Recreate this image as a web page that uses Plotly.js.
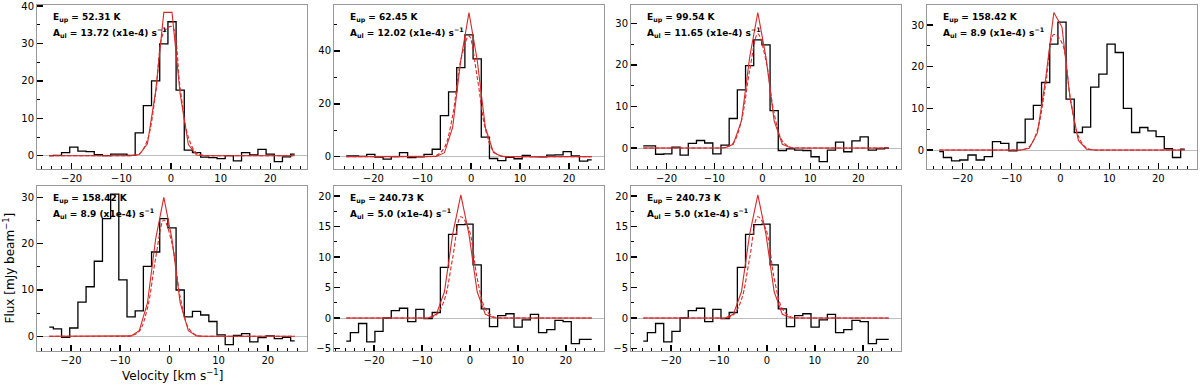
<!DOCTYPE html>
<html>
<head>
<meta charset="utf-8">
<script src="https://cdn.plot.ly/plotly-3.0.1.min.js"></script>
<style>html,body{margin:0;padding:0;background:#fff;}#chart{width:1200px;height:384px;}</style>
</head>
<body>
<div id="chart"></div>
<script>
// ---------------- DATA ----------------
const vel1 = [-24.50,-22.85,-21.21,-19.56,-17.91,-16.27,-14.62,-12.97,-11.32,-9.68,-8.03,-6.38,-4.74,-3.09,-1.44,0.21,1.85,3.50,5.15,6.79,8.44,10.09,11.73,13.38,15.03,16.68,18.32,19.97,21.62,23.26,24.91];
const flux1 = [0.0,0.1,0.8,2.3,1.2,1.1,0.3,0.0,0.4,0.4,0.1,6.1,13.4,20.0,29.9,35.8,17.5,1.5,0.8,-0.4,-0.5,-0.8,0.0,-1.4,0.8,0.2,1.7,0.4,-1.6,-0.3,0.4];
const fit1 = [0,0,0,0,0,0,0,0,0,0,0,0.3,3.2,17.2,38.3,38.3,16.5,3.0,0.2,0,0,0,0,0,0,0,0,0,0,0,0];
const model1 = [0,0,0,0,0,0,0,0,0,0,0.05,0.5,4.2,16.6,33.0,34.5,18.0,4.9,0.7,0.05,0,0,0,0,0,0,0,0,0,0,0];

const vel2 = [-25.54,-23.87,-22.19,-20.52,-18.85,-17.18,-15.50,-13.83,-12.16,-10.48,-8.81,-7.14,-5.46,-3.79,-2.12,-0.45,1.23,2.90,4.57,6.25,7.92,9.59,11.27,12.94,14.61,16.29,17.96,19.63,21.30,22.98,24.65];
const flux2 = [0.3,0.3,0.1,0.9,-0.2,-0.9,0.0,1.5,-0.4,-0.1,0.9,2.8,15.5,24.5,33.7,46.1,37.0,7.4,-0.7,-1.5,-0.3,-0.8,0.5,0.0,-0.1,0.6,0.7,1.9,0.3,-1.7,-1.2];
const fit2 = [0,0,0,0,0,0,0,0,0,0,0,0.1,1.5,11.1,36.6,54.5,36.6,11.1,1.5,0.1,0,0,0,0,0,0,0,0,0,0,0];
const model2 = [0,0,0,0,0,0,0,0,0,0,0,0.4,3.5,15.5,36.6,45.7,30.1,10.5,2.0,0.2,0,0,0,0,0,0,0,0,0,0,0];

const vel3 = [-24.83,-23.12,-21.42,-19.71,-18.01,-16.30,-14.59,-12.89,-11.18,-9.48,-7.77,-6.07,-4.36,-2.65,-0.95,0.76,2.46,4.17,5.88,7.58,9.29,10.99,12.70,14.41,16.11,17.82,19.52,21.23,22.93,24.64,26.35];
const flux3 = [0.5,0.5,-1.5,-1.4,0.2,-1.7,1.1,1.8,1.2,-1.4,0.7,7.1,14.0,19.8,26.0,24.8,9.0,-0.6,-0.2,-0.5,-0.6,-2.1,-3.3,-0.5,1.4,-0.9,1.7,2.7,-0.5,-0.2,0.0];
const fit3 = [0,0,0,0,0,0,0,0,0,0,0.05,0.9,6.5,21.8,32.6,21.8,6.5,0.9,0.05,0,0,0,0,0,0,0,0,0,0,0,0];
const model3 = [0,0,0,0,0,0,0,0,0,0,0.1,1.2,6.6,18.7,27.5,21.0,8.3,1.7,0.2,0,0,0,0,0,0,0,0,0,0,0,0];

const vel4 = [-24.75,-23.08,-21.41,-19.73,-18.06,-16.39,-14.72,-13.05,-11.37,-9.70,-8.03,-6.36,-4.69,-3.01,-1.34,0.33,2.00,3.67,5.35,7.02,8.69,10.36,12.03,13.71,15.38,17.05,18.72,20.39,22.07,23.74,25.41];
const flux4 = [-0.4,-1.8,-2.6,-2.4,-1.2,-2.4,-1.6,2.0,1.6,-0.2,1.8,7.4,10.7,16.2,25.4,30.7,12.2,4.2,5.5,15.1,18.2,25.4,23.4,10.0,4.2,5.4,4.6,3.2,0.3,-1.8,0.2];
const fit4 = [0,0,0,0,0,0,0,0,0,0,0,0.4,4.1,17.1,33.0,29.5,12.2,2.3,0.2,0,0,0,0,0,0,0,0,0,0,0,0];
const model4 = [0,0,0,0,0,0,0,0,0,0,0,0.8,4.8,15.8,27.7,25.7,12.7,3.3,0.5,0,0,0,0,0,0,0,0,0,0,0,0];

const vel5 = [-24.41,-22.75,-21.08,-19.42,-17.76,-16.10,-14.43,-12.77,-11.11,-9.44,-7.78,-6.12,-4.45,-2.79,-1.13,0.53,2.20,3.86,5.52,7.19,8.85,10.51,12.18,13.84,15.50,17.17,18.83,20.49,22.15,23.82,25.48];
const flux5 = [2.0,1.6,-0.2,1.8,7.4,10.7,16.2,25.4,30.7,12.2,4.2,5.5,15.1,18.2,25.4,23.4,10.0,4.2,5.4,4.6,3.2,0.3,-1.8,0.2,0.6,-1.2,-0.3,0.1,-0.5,-0.2,-1.0];
const fit5 = [0,0,0,0,0,0,0,0,0,0,0.1,1.2,7.2,21.0,30.0,21.0,7.2,1.2,0.1,0,0,0,0,0,0,0,0,0,0,0,0];
const model5 = [0,0,0,0,0,0,0,0,0,0,0.1,1.1,6.1,16.9,25.1,20.1,8.5,1.9,0.2,0,0,0,0,0,0,0,0,0,0,0,0];

const vel6 = [-25.80,-24.09,-22.39,-20.68,-18.97,-17.27,-15.56,-13.85,-12.14,-10.44,-8.73,-7.02,-5.32,-3.61,-1.90,-0.20,1.51,3.22,4.93,6.63,8.34,10.05,11.75,13.46,15.17,16.88,18.58,20.29,22.00,23.70,25.41];
const flux6 = [-3.8,-2.4,-0.9,-3.9,-2.2,0.0,1.2,1.6,-0.6,1.4,-0.1,0.9,8.3,13.7,15.3,15.4,8.7,1.5,-1.4,0.4,0.7,-1.5,-0.3,0.6,-2.4,-1.9,-0.4,-0.6,-4.2,-3.5,-3.5];
const fit6 = [0,0,0,0,0,0,0,0,0,0,0,0.6,4.3,13.7,20.2,13.7,4.3,0.6,0.05,0,0,0,0,0,0,0,0,0,0,0,0];
const model6 = [0,0,0,0,0,0,0,0,0,0,0,0.5,3.0,9.8,16.6,14.5,6.5,1.5,0.2,0,0,0,0,0,0,0,0,0,0,0,0];

const eupLabels = ['52.31','62.45','99.54','158.42','158.42','240.73','240.73'];
const aulLabels = ['13.72','12.02','11.65','8.9','8.9','5.0','5.0'];

// ---------------- LAYOUT CONSTANTS ----------------
const W = 1200, H = 384;
const panels = [
  {v: vel1, f: flux1, fit: fit1, mod: model1, col: 0, row: 0, yr: [-3.55, 40.27], dt: 10},
  {v: vel2, f: flux2, fit: fit2, mod: model2, col: 1, row: 0, yr: [-4.67, 57.4], dt: 20},
  {v: vel3, f: flux3, fit: fit3, mod: model3, col: 2, row: 0, yr: [-5.05, 34.4], dt: 10},
  {v: vel4, f: flux4, fit: fit4, mod: model4, col: 3, row: 0, yr: [-4.56, 34.8], dt: 10},
  {v: vel5, f: flux5, fit: fit5, mod: model5, col: 0, row: 1, yr: [-3.17, 32.45], dt: 10},
  {v: vel6, f: flux6, fit: fit6, mod: model6, col: 1, row: 1, yr: [-5.41, 21.64], dt: 5},
  {v: vel6, f: flux6, fit: fit6, mod: model6, col: 2, row: 1, yr: [-5.41, 21.64], dt: 5}
];
const colLeft = [37, 334, 631, 927];
const colW = 270;
const rowTop = [5, 186];
const rowBot = [169, 351];
const RED = '#d42a2a';
const FONT = 'DejaVu Sans';

const traces = [];
const layout = {
  width: W, height: H,
  margin: {l: 0, r: 0, t: 0, b: 0},
  showlegend: false,
  paper_bgcolor: '#fff', plot_bgcolor: '#fff',
  font: {family: FONT, color: '#000', size: 10},
  annotations: []
};

panels.forEach((p, k) => {
  const i = k + 1;
  const xa = 'x' + i, ya = 'y' + i;
  const xs = p.v;
  const vmin = Math.min(...xs), vmax = Math.max(...xs);
  const span = vmax - vmin;
  traces.push({x: xs, y: p.f, xaxis: xa, yaxis: ya, type: 'scatter', mode: 'lines',
               line: {shape: 'hvh', color: '#000', width: 1.3}, hoverinfo: 'skip'});
  traces.push({x: xs, y: p.fit, xaxis: xa, yaxis: ya, type: 'scatter', mode: 'lines',
               line: {color: RED, width: 1.1}, hoverinfo: 'skip'});
  traces.push({x: xs, y: p.mod, xaxis: xa, yaxis: ya, type: 'scatter', mode: 'lines',
               line: {color: RED, width: 1.1, dash: '4px,2px', shape: 'spline', smoothing: 1}, hoverinfo: 'skip'});

  const L = colLeft[p.col], T = rowTop[p.row], B = rowBot[p.row];
  layout['xaxis' + (i === 1 ? '' : i)] = {
    domain: [L / W, (L + colW) / W], anchor: ya,
    range: [vmin - 0.05 * span, vmax + 0.05 * span],
    showline: true, mirror: true, linecolor: '#999', linewidth: 1,
    ticks: 'inside', ticklen: 6, tickwidth: 1.5, tickcolor: '#000',
    tick0: 0, dtick: 10,
    minor: {ticks: 'inside', ticklen: 3, tickwidth: 1, tickcolor: '#000', tick0: 0, dtick: 2, showgrid: false},
    showgrid: false, zeroline: false, ticklabeloverflow: 'allow',
    tickfont: {family: FONT, size: 10, color: '#000'}
  };
  layout['yaxis' + (i === 1 ? '' : i)] = {
    domain: [1 - B / H, 1 - T / H], anchor: xa,
    range: p.yr,
    showline: true, mirror: true, linecolor: '#999', linewidth: 1,
    ticks: 'inside', ticklen: 6, tickwidth: 1.5, tickcolor: '#000',
    tick0: 0, dtick: p.dt,
    minor: {ticks: 'inside', ticklen: 3, tickwidth: 1, tickcolor: '#000', tick0: 0, dtick: p.dt / 2, showgrid: false},
    showgrid: false, ticklabeloverflow: 'allow',
    zeroline: true, zerolinecolor: '#bdbdbd', zerolinewidth: 1,
    tickfont: {family: FONT, size: 10, color: '#000'}
  };
  const ax = (L + 13.7) / W;
  layout.annotations.push({
    xref: 'paper', yref: 'paper', x: ax, y: 1 - (T + 13) / H,
    xanchor: 'left', yanchor: 'middle', showarrow: false,
    text: '<b>E<sub>up</sub> = ' + eupLabels[k] + ' K</b>',
    font: {family: FONT, size: 9, color: '#000'}
  });
  layout.annotations.push({
    xref: 'paper', yref: 'paper', x: ax, y: 1 - (T + 27.5) / H,
    xanchor: 'left', yanchor: 'middle', showarrow: false,
    text: '<b>A<sub>ul</sub> = ' + aulLabels[k] + ' (x1e-4) s<sup>−1</sup></b>',
    font: {family: FONT, size: 9, color: '#000'}
  });
});

// axis titles (placed on the lower-left panel)
layout.annotations.push({
  xref: 'paper', yref: 'paper', x: 172 / W, y: 1 - 375 / H,
  xanchor: 'center', yanchor: 'middle', showarrow: false,
  text: 'Velocity [km s<sup>−1</sup>]',
  font: {family: FONT, size: 12, color: '#000'}
});
layout.annotations.push({
  xref: 'paper', yref: 'paper', x: 8 / W, y: 1 - 268.5 / H,
  xanchor: 'center', yanchor: 'middle', showarrow: false, textangle: -90,
  text: 'Flux [mJy beam<sup>−1</sup>]',
  font: {family: FONT, size: 12, color: '#000'}
});

Plotly.newPlot('chart', traces, layout, {staticPlot: true, displayModeBar: false});
</script>
</body>
</html>
